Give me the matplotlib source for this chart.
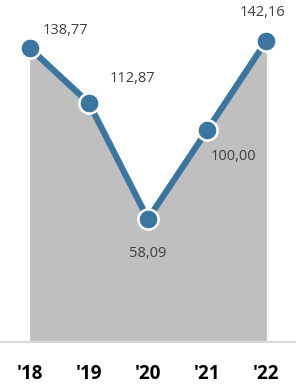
import matplotlib
matplotlib.use("Agg")
import matplotlib.pyplot as plt

years = ["'18", "'19", "'20", "'21", "'22"]
values = [138.77, 112.87, 58.09, 100.00, 142.16]
labels = ["138,77", "112,87", "58,09", "100,00", "142,16"]
offsets = [(36, 17), (44, 24), (0, -35), (26, -26), (-4, 28)]

fig = plt.figure(figsize=(2.96, 3.90), dpi=100)
ax = fig.add_axes([0.0, 48/390, 1.0, (342-3)/390])
x = list(range(len(years)))
ax.fill_between(x, 0, values, color="#BFBFBF", lw=0, zorder=1)
ax.plot(x, values, color="#3A76A0", lw=4.5, marker="o", ms=14.5,
        mfc="#3A76A0", mec="white", mew=1.8, zorder=3, solid_capstyle="round")
for xi, v, lab, (dx, dy) in zip(x, values, labels, offsets):
    ax.annotate(lab, (xi, v), xytext=(dx, dy), textcoords="offset pixels",
                ha="center", va="center", fontsize=10.5, color="#404040",
                family="Open Sans")
ax.set_xlim(-0.5, 4.5)
ax.set_ylim(0, 160)
ax.set_xticks(x)
ax.set_xticklabels(years, fontsize=13.5, fontweight="bold", family="Open Sans", color="#000000")
ax.tick_params(axis="x", length=0, pad=16)
ax.set_yticks([])
for s in ["top", "left", "right"]:
    ax.spines[s].set_visible(False)
ax.spines["bottom"].set_color("#D9D9D9")
ax.spines["bottom"].set_linewidth(1.5)
ax.set_facecolor("none")
fig.savefig("out.png", dpi=100)
